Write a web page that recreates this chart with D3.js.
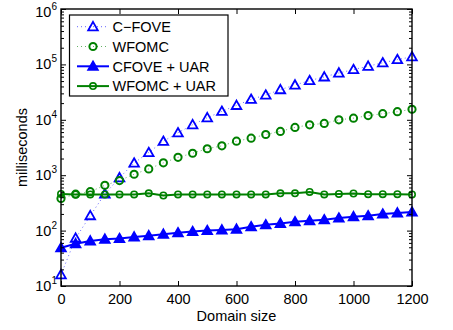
<!DOCTYPE html>
<html>
<head>
<meta charset="utf-8">
<script src="https://cdn.jsdelivr.net/npm/d3@7"></script>
<style>
body { margin: 0; background: #fff; }
text { font-family: "Liberation Sans", Arial, sans-serif; }
</style>
</head>
<body>
<div id="chart-area"></div>
<script>
var width = 453,
	height = 330;

// domain sizes 0..1200 step 50
var domainSizes = [0, 50, 100, 150, 200, 250, 300, 350, 400, 450, 500, 550, 600,
	650, 700, 750, 800, 850, 900, 950, 1000, 1050, 1100, 1150, 1200];

var cfove = [16, 73, 186, 460, 900, 1660, 2570, 4100, 5830, 8150, 10900, 14200, 18200,
	23400, 28000, 35000, 42500, 51000, 59500, 70000, 80700, 92700, 107000, 122000, 137000];

var wfomc = [380, 455, 505, 656, 800, 1040, 1300, 1670, 2100, 2490, 3000, 3390, 4110,
	4650, 5430, 6170, 7280, 8130, 8600, 10000, 10700, 11900, 12900, 14000, 15500];

var cfoveUar = [49, 58, 65, 70, 72, 77, 81, 86, 91, 96, 100, 103, 106,
	117, 127, 135, 144, 151, 157, 168, 178, 185, 199, 208, 216];

var wfomcUar = [460, 450, 450, 450, 450, 450, 470, 430, 450, 450, 450, 450, 450,
	450, 450, 470, 470, 498, 450, 460, 467, 455, 455, 455, 450];

var xTicks = [0, 200, 400, 600, 800, 1000, 1200];
var yTicks = [10, 100, 1000, 10000, 100000, 1000000];

var series = [
	{name: "C\u2212FOVE", values: cfove, color: "#0000ff", marker: "triangle", dotted: true},
	{name: "WFOMC", values: wfomc, color: "#008000", marker: "circle", dotted: true},
	{name: "CFOVE + UAR", values: cfoveUar, color: "#0000ff", marker: "triangle", dotted: false},
	{name: "WFOMC + UAR", values: wfomcUar, color: "#008000", marker: "circle", dotted: false}
];

var margin = {left: 61, right: 41, top: 9, bottom: 44};

var x = d3.scaleLinear()
	.domain([0, 1200])
	.range([margin.left, width - margin.right]);

var y = d3.scaleLog()
	.domain([10, 1000000])
	.range([height - margin.bottom, margin.top]);

var svg = d3.select('#chart-area')
	.append("svg")
	.attr("width", width)
	.attr("height", height);

// minor log ticks
var minor = [];
for (var e = 1; e < 6; e++) {
	for (var k = 2; k < 10; k++) minor.push(k * Math.pow(10, e));
}

function drawMarker(g, type, color, cx, cy, dotted) {
	if (type === "triangle") {
		var s = 4.8;
		g.append("path")
			.attr("d", "M" + cx + "," + (cy - s) + "L" + (cx + s) + "," + (cy + s * 0.75) + "L" + (cx - s) + "," + (cy + s * 0.75) + "Z")
			.attr("fill", dotted ? "none" : color)
			.attr("stroke", color)
			.attr("stroke-width", 1.8)
			.attr("stroke-linejoin", "miter");
	} else {
		g.append("circle")
			.attr("cx", cx).attr("cy", cy).attr("r", dotted ? 3.6 : 3.2)
			.attr("fill", "none")
			.attr("stroke", color)
			.attr("stroke-width", dotted ? 2 : 1.6);
	}
}

var line = d3.line()
	.x(function(d) { return x(d[0]); })
	.y(function(d) { return y(d[1]); });

var plot = svg.append("g");

series.forEach(function(s) {
	var pts = domainSizes.map(function(d, i) { return [d, s.values[i]]; });
	plot.append("path")
		.datum(pts)
		.attr("d", line)
		.attr("fill", "none")
		.attr("stroke", s.color)
		.attr("stroke-width", s.dotted ? 1 : 2)
		.attr("stroke-dasharray", s.dotted ? "1,3" : null)
		.attr("opacity", s.dotted ? 0.6 : 1);
	pts.forEach(function(p) {
		drawMarker(plot, s.marker, s.color, x(p[0]), y(p[1]), s.dotted);
	});
});

// axes
var x0 = margin.left, x1 = width - margin.right, y0 = height - margin.bottom, y1 = margin.top;

svg.append("g")
	.attr("class", "axis x-axis")
	.attr("transform", "translate(0," + y0 + ")")
	.call(d3.axisBottom(x).tickValues(xTicks).tickSizeInner(-5).tickSizeOuter(0).tickPadding(8).tickFormat(d3.format("d")))
	.call(function(g) {
		g.select(".domain").remove();
		g.selectAll("text").attr("font-size", 14.5).attr("fill", "#000");
	});

svg.append("g")
	.attr("transform", "translate(0," + y1 + ")")
	.call(d3.axisTop(x).tickValues(xTicks).tickSizeInner(-5).tickSizeOuter(0).tickFormat(""))
	.call(function(g) { g.select(".domain").remove(); });

var yAxisG = svg.append("g")
	.attr("class", "axis y-axis")
	.attr("transform", "translate(" + x0 + ",0)")
	.call(d3.axisLeft(y).tickValues(yTicks).tickSizeInner(-5).tickSizeOuter(0).tickFormat(""));
yAxisG.select(".domain").remove();

svg.append("g")
	.attr("transform", "translate(" + x1 + ",0)")
	.call(d3.axisRight(y).tickValues(yTicks).tickSizeInner(-5).tickSizeOuter(0).tickFormat(""))
	.call(function(g) { g.select(".domain").remove(); });

svg.append("g")
	.attr("transform", "translate(" + x0 + ",0)")
	.call(d3.axisLeft(y).tickValues(minor).tickSizeInner(-3).tickSizeOuter(0).tickFormat(""))
	.call(function(g) { g.select(".domain").remove(); });
svg.append("g")
	.attr("transform", "translate(" + x1 + ",0)")
	.call(d3.axisRight(y).tickValues(minor).tickSizeInner(-3).tickSizeOuter(0).tickFormat(""))
	.call(function(g) { g.select(".domain").remove(); });

// y tick labels with superscript exponents (top one nudged down to stay on the page)
yTicks.forEach(function(t) {
	var txt = svg.append("text")
		.attr("x", x0 - 4)
		.attr("y", y(t) + (t === 1000000 ? 8 : 5))
		.attr("text-anchor", "end")
		.attr("font-size", 14.5);
	txt.append("tspan").text("10");
	txt.append("tspan").attr("dy", -7).attr("font-size", 10).text(Math.round(Math.log10(t)));
});

svg.selectAll(".tick line").attr("stroke", "#000");

// frame
svg.append("rect")
	.attr("x", x0).attr("y", y1)
	.attr("width", x1 - x0).attr("height", y0 - y1)
	.attr("fill", "none")
	.attr("stroke", "#000")
	.attr("stroke-width", 1.4);

// labels
svg.append("text")
	.attr("x", (x0 + x1) / 2)
	.attr("y", 321)
	.attr("text-anchor", "middle")
	.attr("font-size", 14.5)
	.text("Domain size");

svg.append("text")
	.attr("transform", "translate(27," + ((y0 + y1) / 2) + ") rotate(-90)")
	.attr("text-anchor", "middle")
	.attr("font-size", 14.5)
	.text("milliseconds");

// legend
var legend = svg.append("g");
legend.append("rect")
	.attr("x", 69.5).attr("y", 15)
	.attr("width", 158.5).attr("height", 81)
	.attr("fill", "#fff")
	.attr("stroke", "#000")
	.attr("stroke-width", 1.2);

series.forEach(function(s, i) {
	var ly = 26.7 + i * 19.8;
	legend.append("line")
		.attr("x1", 77).attr("x2", 109)
		.attr("y1", ly).attr("y2", ly)
		.attr("stroke", s.color)
		.attr("stroke-width", s.dotted ? 1 : 2)
		.attr("stroke-dasharray", s.dotted ? "1,3" : null)
		.attr("opacity", s.dotted ? 0.6 : 1);
	drawMarker(legend, s.marker, s.color, 93, ly, s.dotted);
	legend.append("text")
		.attr("x", 112.5)
		.attr("y", ly + 5.2)
		.attr("font-size", 14.5)
		.text(s.name);
});
</script>
</body>
</html>
